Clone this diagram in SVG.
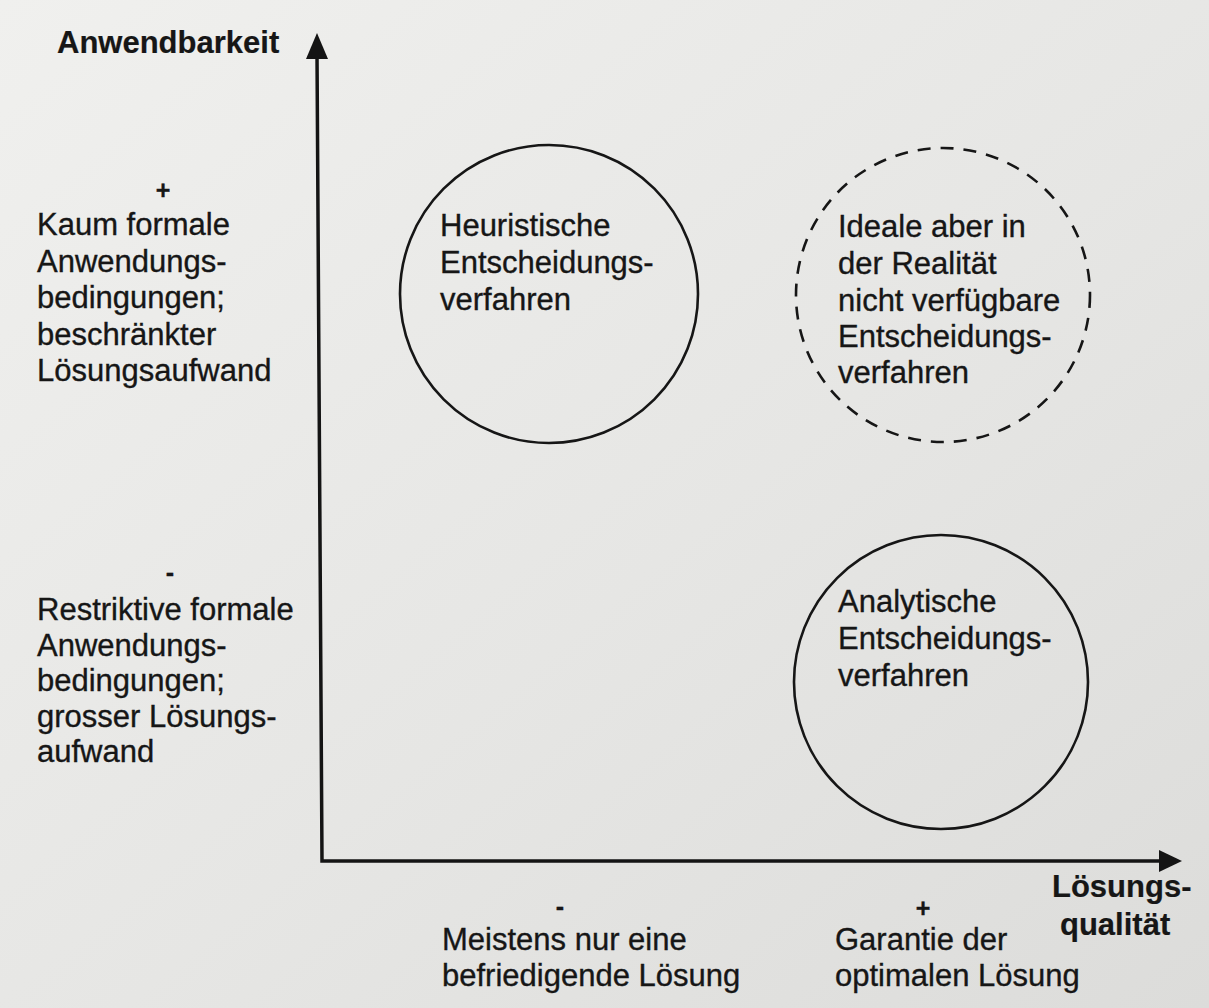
<svg xmlns="http://www.w3.org/2000/svg" width="1209" height="1008" viewBox="0 0 1209 1008">
  <defs>
    <linearGradient id="paper" x1="0" y1="0" x2="1" y2="1">
      <stop offset="0" stop-color="#f0f0ee"/>
      <stop offset="0.55" stop-color="#e6e6e4"/>
      <stop offset="1" stop-color="#dcdcda"/>
    </linearGradient>
    <style>
      text { font-family: "Liberation Sans", Arial, Helvetica, sans-serif; font-size: 31px; fill: #161616; stroke: #161616; stroke-width: 0.35; }
      .bold { font-weight: bold; stroke-width: 0.2; }
      .sign { font-weight: bold; font-size: 25px; text-anchor: middle; }
      .axis { fill: none; stroke: #141414; stroke-width: 3.5; stroke-linejoin: miter; }
      .head { fill: #141414; }
      .ring { fill: none; stroke: #161616; stroke-width: 2.6; }
      .ring.dashed { stroke-dasharray: 13 10; }
    </style>
  </defs>

  <!-- paper -->
  <rect x="0" y="0" width="1209" height="1008" fill="url(#paper)"/>

  <!-- axes -->
  <g id="connectors">
    <path class="axis" d="M317,54 L322,861 L1164,861"/>
    <polygon class="head" points="317,33 306,59 328,59"/>
    <polygon class="head" points="1182,861 1159,850 1159,872"/>
  </g>

  <!-- y-axis title and scale notes -->
  <g id="y-axis-label">
    <text class="bold" x="57" y="53">Anwendbarkeit</text>
  </g>
  <g id="y-high">
    <text class="sign" x="163" y="199">+</text>
    <text x="37" y="235">Kaum formale</text>
    <text x="37" y="272">Anwendungs-</text>
    <text x="37" y="308">bedingungen;</text>
    <text x="37" y="345">beschränkter</text>
    <text x="37" y="381">Lösungsaufwand</text>
  </g>
  <g id="y-low">
    <text class="sign" x="170" y="581">-</text>
    <text x="37" y="620">Restriktive formale</text>
    <text x="37" y="656">Anwendungs-</text>
    <text x="37" y="691">bedingungen;</text>
    <text x="37" y="727">grosser Lösungs-</text>
    <text x="37" y="762">aufwand</text>
  </g>

  <!-- x-axis title and scale notes -->
  <g id="x-axis-label">
    <text class="bold" x="1052" y="897">Lösungs-</text>
    <text class="bold" x="1060" y="935">qualität</text>
  </g>
  <g id="x-low">
    <text class="sign" x="560" y="915">-</text>
    <text x="442" y="950">Meistens nur eine</text>
    <text x="442" y="986">befriedigende Lösung</text>
  </g>
  <g id="x-high">
    <text class="sign" x="923" y="917">+</text>
    <text x="835" y="950">Garantie der</text>
    <text x="835" y="986">optimalen Lösung</text>
  </g>

  <!-- procedure classes -->
  <g id="heuristic">
    <circle class="ring" cx="549" cy="294" r="149"/>
    <text x="440" y="236">Heuristische</text>
    <text x="440" y="273">Entscheidungs-</text>
    <text x="440" y="310">verfahren</text>
  </g>
  <g id="ideal">
    <circle class="ring dashed" cx="943" cy="295" r="147"/>
    <text x="838" y="237">Ideale aber in</text>
    <text x="838" y="274">der Realität</text>
    <text x="838" y="311">nicht verfügbare</text>
    <text x="838" y="347">Entscheidungs-</text>
    <text x="838" y="383">verfahren</text>
  </g>
  <g id="analytic">
    <circle class="ring" cx="941" cy="682" r="147"/>
    <text x="838" y="612">Analytische</text>
    <text x="838" y="649">Entscheidungs-</text>
    <text x="838" y="686">verfahren</text>
  </g>
</svg>
